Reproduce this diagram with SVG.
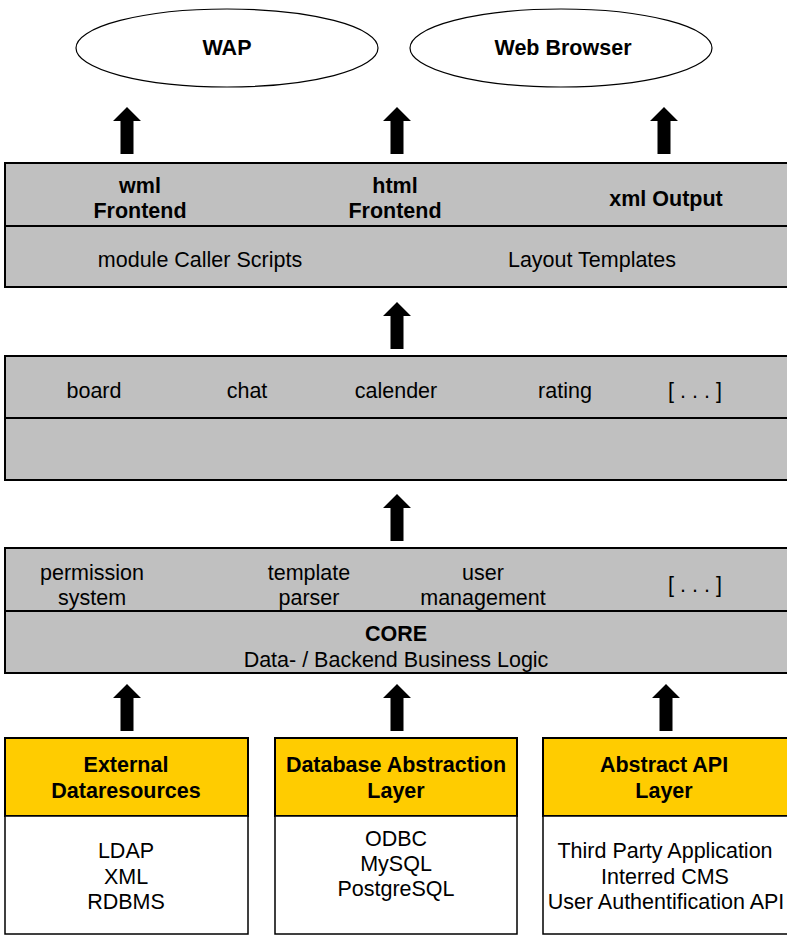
<svg xmlns="http://www.w3.org/2000/svg" width="787" height="936" viewBox="0 0 787 936">
<style>
text{font-family:"Liberation Sans",Arial,sans-serif;font-size:21.5px;fill:#000;text-anchor:middle}
.b{font-weight:bold}
.gray{fill:#c0c0c0;stroke:#000;stroke-width:2}
.yel{fill:#ffcc00;stroke:#000;stroke-width:2}
.wht{fill:#fff;stroke:#000;stroke-width:1.5}
.ell{fill:#fff;stroke:#000;stroke-width:1.2}
.arr{fill:#000}
</style>
<defs>
<path id="arrow" d="M0,0 L14,14 L6.5,14 L6.5,47 L-6.5,47 L-6.5,14 L-14,14 Z"/>
</defs>
<g id="wap"><ellipse class="ell" cx="227" cy="48" rx="151" ry="39"/><text class="b" x="227" y="55">WAP</text></g>
<g id="webbrowser"><ellipse class="ell" cx="561" cy="48" rx="151" ry="39"/><text class="b" x="563" y="55">Web Browser</text></g>
<g id="frontend">
<rect class="gray" x="5" y="163" width="790" height="63"/>
<rect class="gray" x="5" y="226" width="790" height="61"/>
<text class="b" x="140" y="193">wml</text><text class="b" x="140" y="218">Frontend</text>
<text class="b" x="395" y="193">html</text><text class="b" x="395" y="218">Frontend</text>
<text class="b" x="666" y="206">xml Output</text>
<text x="200" y="267">module Caller Scripts</text>
<text x="592" y="267">Layout Templates</text>
</g>
<g id="modules">
<rect class="gray" x="5" y="356" width="790" height="62"/>
<rect class="gray" x="5" y="418" width="790" height="62"/>
<text x="94" y="398">board</text>
<text x="247" y="398">chat</text>
<text x="396" y="398">calender</text>
<text x="565" y="398">rating</text>
<text x="695" y="398">[ . . . ]</text>
</g>
<g id="core">
<rect class="gray" x="5" y="548" width="790" height="63"/>
<rect class="gray" x="5" y="611" width="790" height="62"/>
<text x="92" y="580">permission</text><text x="92" y="605">system</text>
<text x="309" y="580">template</text><text x="309" y="605">parser</text>
<text x="483" y="580">user</text><text x="483" y="605">management</text>
<text x="695" y="592">[ . . . ]</text>
<text class="b" x="396" y="641">CORE</text>
<text x="396" y="667">Data- / Backend Business Logic</text>
</g>
<g id="external">
<rect class="yel" x="5" y="738" width="243" height="78"/>
<rect class="wht" x="5" y="816" width="243" height="118"/>
<text class="b" x="126" y="772">External</text><text class="b" x="126" y="798">Dataresources</text>
<text x="126" y="858">LDAP</text><text x="126" y="884">XML</text><text x="126" y="909">RDBMS</text>
</g>
<g id="dbal">
<rect class="yel" x="275" y="738" width="242" height="78"/>
<rect class="wht" x="275" y="816" width="242" height="118"/>
<text class="b" x="396" y="772">Database Abstraction</text><text class="b" x="396" y="798">Layer</text>
<text x="396" y="846">ODBC</text><text x="396" y="871">MySQL</text><text x="396" y="896">PostgreSQL</text>
</g>
<g id="api">
<rect class="yel" x="543" y="738" width="250" height="78"/>
<rect class="wht" x="543" y="816" width="250" height="118"/>
<text class="b" x="664" y="772">Abstract API</text><text class="b" x="664" y="798">Layer</text>
<text x="665" y="858">Third Party Application</text><text x="665" y="884">Interred CMS</text><text x="666" y="909">User Authentification API</text>
</g>
<g id="connectors" class="arr">
<use href="#arrow" x="127" y="107"/>
<use href="#arrow" x="397" y="107"/>
<use href="#arrow" x="664" y="107"/>
<use href="#arrow" x="397" y="302"/>
<use href="#arrow" x="397" y="494"/>
<use href="#arrow" x="127" y="684"/>
<use href="#arrow" x="397" y="684"/>
<use href="#arrow" x="666" y="684"/>
</g>
</svg>
